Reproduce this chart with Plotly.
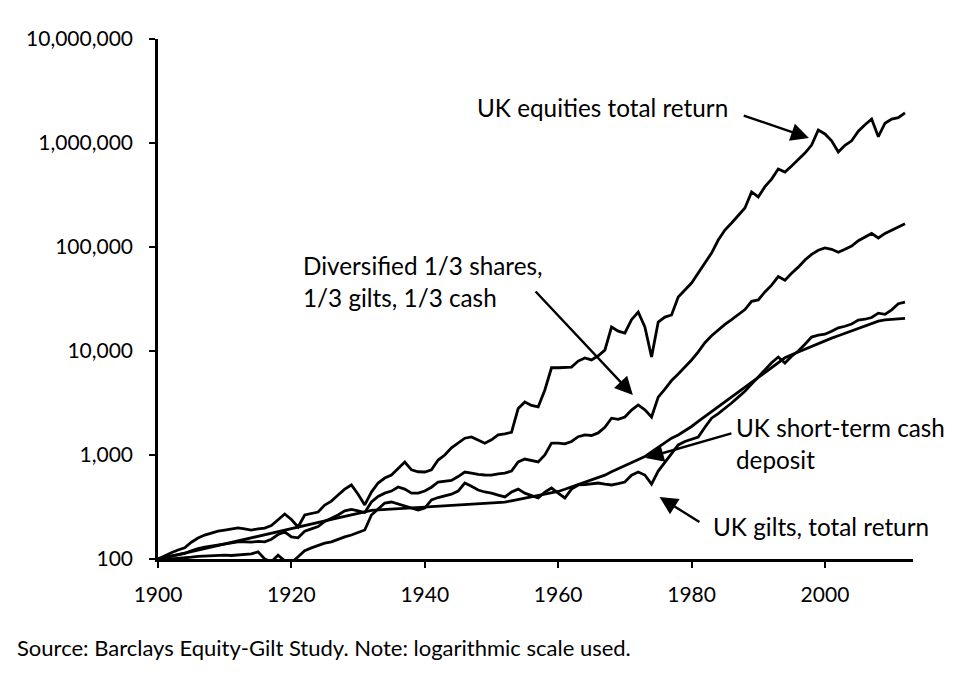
import numpy as np
import plotly.graph_objects as go

years = list(range(1900, 2013))

equities = [
    100, 108, 115, 122, 128, 145, 159, 170, 178, 185,
    190, 195, 199, 195, 190, 195, 198, 210, 240, 271,
    240, 203, 265, 272, 283, 330, 360, 412, 470, 515,
    420, 331, 440, 538, 600, 642, 750, 857, 720, 690,
    686, 720, 894, 1000, 1170, 1300, 1450, 1490, 1400, 1300,
    1400, 1560, 1600, 1650, 2800, 3230, 3000, 2900, 4220, 6900,
    6900, 7000, 7000, 8000, 8570, 8200, 9000, 10200, 17000, 15500,
    14900, 20000, 23700, 17000, 8750, 19000, 21200, 22200, 33000, 38600,
    45000, 56200, 70000, 87500, 116800, 145600, 170000, 203000, 237000, 338000,
    303000, 380000, 450000, 562000, 525000, 600000, 687000, 800000, 955000, 1334000,
    1222000, 1050000, 819000, 950000, 1050000, 1300000, 1500000, 1700000, 1150000, 1550000,
    1700000, 1750000, 1950000,
]

diversified = [
    100, 103, 107, 110, 113, 120, 126, 130, 133, 137,
    140, 143, 146, 146, 145, 148, 146, 155, 172, 182,
    163, 160, 185, 195, 205, 230, 245, 265, 290, 300,
    290, 280, 353, 400, 430, 450, 493, 470, 430, 430,
    450, 490, 550, 560, 570, 620, 686, 670, 650, 642,
    640, 660, 670, 700, 857, 915, 880, 857, 1000, 1300,
    1300, 1280, 1350, 1500, 1560, 1540, 1630, 1850, 2260, 2200,
    2320, 2700, 3030, 2720, 2320, 3600, 4300, 5200, 6000, 7000,
    8200, 9800, 12000, 14000, 16000, 18000, 20000, 22500, 25000, 30000,
    31000, 37000, 43000, 52000, 48000, 56000, 64000, 75000, 85000, 93000,
    98000, 95000, 89000, 95000, 102000, 115000, 125000, 135000, 122000, 135000,
    145000, 155000, 167000,
]

gilts = [
    100, 98, 100, 101, 102, 104, 106, 107, 108, 108,
    109, 108, 109, 110, 112, 117, 100, 94, 109, 96,
    92, 105, 120, 128, 135, 142, 146, 155, 163, 170,
    180, 190, 265, 300, 345, 353, 338, 320, 310, 296,
    309, 370, 390, 405, 420, 450, 538, 500, 460, 441,
    430, 412, 395, 440, 470, 430, 410, 386, 440, 481,
    430, 386, 470, 515, 520, 530, 538, 525, 515, 530,
    550, 640, 686, 642, 526, 700, 850, 1050, 1250, 1350,
    1420, 1490, 1850, 2260, 2500, 2800, 3160, 3600, 4100, 4800,
    5600, 6500, 7700, 8750, 7660, 8900, 10000, 11600, 13600, 14200,
    14500, 15500, 16700, 17300, 18200, 19800, 20200, 21000, 23100, 22500,
    24900, 28500, 29500,
]

cash = [
    100, 103, 107, 110, 114, 118, 122, 126, 130, 135,
    140, 144, 149, 154, 160, 166, 171, 177, 183, 190,
    196, 203, 210, 217, 224, 232, 240, 248, 257, 266,
    275, 285, 294, 297, 299, 302, 304, 307, 310, 313,
    316, 319, 322, 325, 328, 331, 334, 337, 340, 343,
    346, 349, 353, 363, 374, 385, 397, 410, 422, 434,
    446, 468, 492, 516, 542, 570, 600, 640, 690, 740,
    790, 845, 900, 965, 1070, 1190, 1320, 1450, 1560, 1700,
    1880, 2100, 2340, 2600, 2900, 3240, 3620, 4030, 4500, 5020,
    5600, 6250, 6950, 7750, 8600, 9200, 9800, 10450, 11150, 11900,
    12600, 13300, 14000, 14800, 15600, 16400, 17300, 18300, 19400, 19900,
    20200, 20400, 20600,
]

tick_vals = [100, 1000, 10000, 100000, 1000000, 10000000]
tick_text = ["100", "1,000", "10,000", "100,000", "1,000,000", "10,000,000"]

FONT = "Lato"

fig = go.Figure()
for name, vals in [
    ("UK equities total return", equities),
    ("Diversified", diversified),
    ("UK gilts, total return", gilts),
    ("UK short-term cash deposit", cash),
]:
    fig.add_trace(go.Scatter(x=years, y=vals, mode="lines", name=name,
                             line=dict(color="black", width=2.8)))

# label text placed by its left edge; y in log10 units
labels = [
    ("UK equities total return", 1947.5, 6.346),
    ("Diversified 1/3 shares,<br>1/3 gilts, 1/3 cash", 1921.4, 4.673),
    ("UK short-term cash<br>deposit", 1986.3, 3.115),
    ("UK gilts, total return", 1982.9, 2.308),
]
# arrows: (head), (tail)
arrows = [
    ((1997.6, 6.048), (1987.6, 6.269)),
    ((1971.2, 3.577), (1956.4, 4.587)),
    ((1973.1, 2.971), (1986.2, 3.212)),
    ((1975.2, 2.596), (1981.4, 2.346)),
]

for text, x, y in labels:
    fig.add_annotation(x=x, y=y, text=text, showarrow=False, xanchor="left",
                       yanchor="middle", align="left",
                       font=dict(family=FONT, size=24.3, color="black"))
for (hx, hy), (tx, ty) in arrows:
    fig.add_annotation(x=hx, y=hy, ax=tx, ay=ty, xref="x", yref="y",
                       axref="x", ayref="y", text="", showarrow=True,
                       arrowhead=2, arrowsize=1.5, arrowwidth=2.4,
                       arrowcolor="black")

fig.add_annotation(text="Source: Barclays Equity-Gilt Study. Note: logarithmic scale used.",
                   xref="paper", yref="paper", x=-0.19, y=-0.171,
                   xanchor="left", yanchor="middle", showarrow=False,
                   font=dict(family=FONT, size=22, color="black"))

fig.update_layout(
    width=956, height=689,
    margin=dict(l=150, r=51, t=31, b=138),
    plot_bgcolor="white", paper_bgcolor="white",
    showlegend=False,
    font=dict(family=FONT, size=21, color="black"),
)
fig.update_xaxes(range=[1900, 2013.2], tickvals=[1900, 1920, 1940, 1960, 1980, 2000],
                 showgrid=False, zeroline=False, showline=True, linecolor="black",
                 linewidth=2.5, ticks="outside", ticklen=6, tickwidth=2,
                 tickcolor="black", ticklabelstandoff=9)
fig.update_yaxes(type="log", range=[2, 7], tickvals=tick_vals, ticktext=tick_text,
                 showgrid=False, zeroline=False, showline=True, linecolor="black",
                 linewidth=2.5, ticks="outside", ticklen=6, tickwidth=2,
                 tickcolor="black", ticklabelstandoff=12)

fig.write_html("out.html")
